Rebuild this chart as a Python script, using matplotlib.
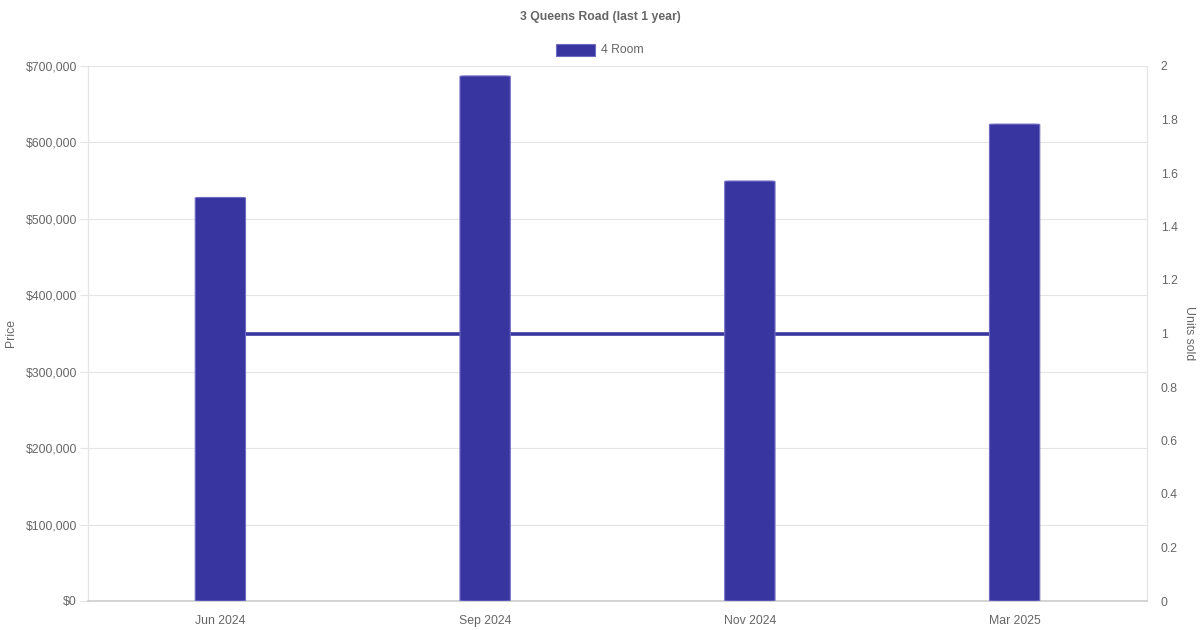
#!/usr/bin/env python3
"""
Recreate the 3 Queens Road price / units sold chart.
"""
import matplotlib
matplotlib.use("Agg")
import matplotlib.pyplot as plt
from matplotlib.patches import FancyBboxPatch, Rectangle
from matplotlib.ticker import FuncFormatter

months = ["Jun 2024", "Sep 2024", "Nov 2024", "Mar 2025"]
prices = [528000, 687000, 549500, 624000]
units_sold = [1, 1, 1, 1]

BAR = "#3834a0"
EDGE = "#6f6cc4"
GRID = "#e5e5e5"
TEXT = "#666666"

plt.rcParams["font.family"] = ["Liberation Sans", "DejaVu Sans"]
plt.rcParams["font.size"] = 8.8

W, H = 1200, 630
fig = plt.figure(figsize=(12, 6.3), dpi=100)
left, right, top, bottom = 88, 1147, 66, 601
ax = fig.add_axes([left / W, (H - bottom) / H, (right - left) / W, (bottom - top) / H])
ax2 = ax.twinx()

x = list(range(len(months)))

# line behind the bars
ax.set_zorder(1)
ax2.set_zorder(0)
ax.patch.set_visible(False)
ax2.plot(x, units_sold, color=BAR, lw=2.6, solid_capstyle="butt", zorder=1)

bw = 0.19
for xi, p in zip(x, prices):
    ax.add_patch(FancyBboxPatch((xi - bw / 2, 0), bw, p,
                                boxstyle="round,pad=0,rounding_size=0.02",
                                mutation_aspect=30000,
                                facecolor=BAR, edgecolor=EDGE, lw=0.8, zorder=3))

ax.set_xlim(-0.5, len(months) - 0.5)
ax.set_ylim(0, 700000)
ax2.set_ylim(0, 2)

ax.set_yticks(range(0, 700001, 100000))
ax.yaxis.set_major_formatter(FuncFormatter(lambda v, _: f"${v:,.0f}"))
ax2.set_yticks([i / 5 for i in range(11)])
ax2.yaxis.set_major_formatter(FuncFormatter(lambda v, _: f"{v:g}"))
ax.set_xticks(x)
ax.set_xticklabels(months)

ax.grid(axis="y", color=GRID, lw=0.8)
ax.set_axisbelow(True)
ax.tick_params(axis="y", length=6, color=GRID, pad=2, labelcolor=TEXT)
ax.tick_params(axis="x", length=0, pad=10, labelcolor=TEXT)
ax2.tick_params(axis="y", length=0, pad=10, labelcolor=TEXT)

for a in (ax, ax2):
    for s in a.spines.values():
        s.set_color(GRID)
        s.set_linewidth(0.8)
ax.spines["bottom"].set_color("#cccccc")
ax.spines["bottom"].set_linewidth(1.2)
ax2.spines["bottom"].set_visible(False)
ax.spines["top"].set_visible(False)
ax2.spines["top"].set_visible(False)

fig.text(11 / W, 1 - 333 / H, "Price", rotation=90, ha="center", va="center", color=TEXT)
fig.text(1189 / W, 1 - 333 / H, "Units sold", rotation=270, ha="center", va="center", color=TEXT)
fig.text(600 / W, 1 - 17 / H, "3 Queens Road (last 1 year)", ha="center", va="center",
         color=TEXT, fontweight="bold")

# legend
fig.patches.append(Rectangle((556 / W, 1 - 56 / H), 39 / W, 12 / H, transform=fig.transFigure,
                             facecolor=BAR, edgecolor=EDGE, lw=0.8))
fig.text(601 / W, 1 - 50 / H, "4 Room", ha="left", va="center", color=TEXT)

fig.savefig("out.png", dpi=100, facecolor="white")
